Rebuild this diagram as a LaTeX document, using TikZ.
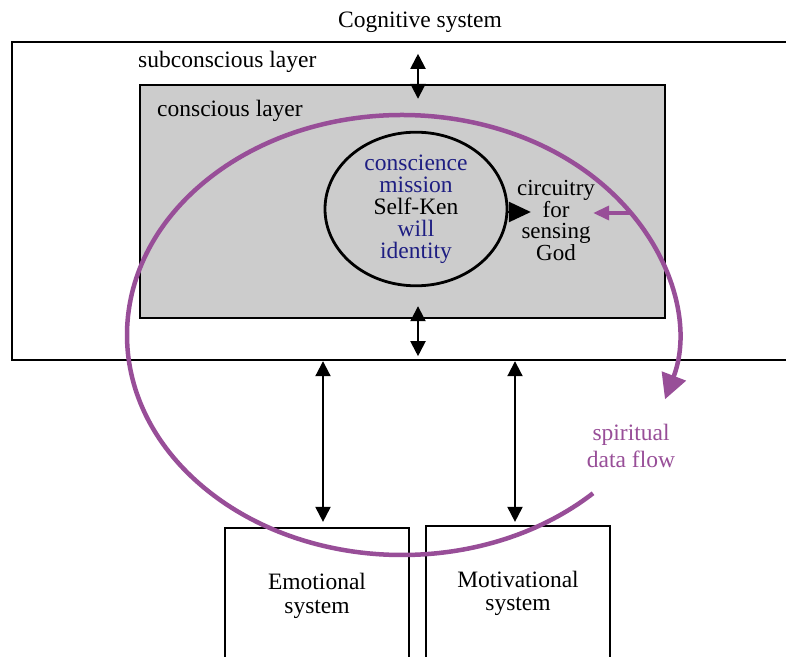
\documentclass[tikz,border=0pt]{standalone}
\usepackage{fontspec}
\setmainfont{Liberation Serif}
\usetikzlibrary{arrows.meta,shapes.geometric,positioning}
\definecolor{layergray}{RGB}{204,204,204}
\definecolor{flowpurple}{RGB}{152,78,152}
\definecolor{inkblue}{RGB}{30,30,130}
\tikzset{box/.style={rectangle, draw=black, line width=2.4pt, inner sep=0pt},twoway/.style={{Triangle[length=15pt,width=15pt]}-{Triangle[length=15pt,width=15pt]}, line width=2pt},oneway/.style={-{Triangle[length=22pt,width=20pt]}, line width=2.4pt},flow/.style={draw=flowpurple, line width=4.5pt},txt/.style={font=\fontsize{23.5}{24}\selectfont, inner sep=0pt, align=center}}

\begin{document}
\begin{tikzpicture}[x=1pt, y=1pt]

\useasboundingbox (0,0) rectangle (786,656);
\fill[white] (0,0) rectangle (786,656);
\clip (0,0) rectangle (786,656);

\node(cogn) at (406, 455) [box, minimum width=788, minimum height=318] {};
\node(consc) at (402.5, 454.5) [box, fill=layergray, minimum width=525, minimum height=233] {};
\node(self) at (416, 447) [box, line width=2.8pt, ellipse, minimum width=182, minimum height=122, inner sep=-15pt, txt, font=\fontsize{23.5}{22}\selectfont] {\textcolor{inkblue}{conscience}\\\textcolor{inkblue}{mission}\\Self-Ken\\\textcolor{inkblue}{will}\\\textcolor{inkblue}{identity}};
\node(circ) at (556, 435.5) [txt, font=\fontsize{23}{21.5}\selectfont] {circuitry\\for\\sensing\\God};
\node(emo) at (317, 60.5) [box, line width=2.2pt, minimum width=184, minimum height=135, txt] {Emotional\\system};
\node(motiv) at (518, 62.5) [box, line width=2.2pt, minimum width=184, minimum height=135, txt, font=\fontsize{23.5}{23}\selectfont] {Motivational\\system};

\node(cogtitle) at (420, 628) [txt, anchor=base] {Cognitive system};
\node(subc) at (138, 588) [txt, anchor=base west] {subconscious layer};
\node(consl) at (157, 539) [txt, anchor=base west] {conscious layer};
\node(flowlbl) at (631, 210) [txt, text=flowpurple, font=\fontsize{23.5}{27}\selectfont] {spiritual\\data flow};

% links between the systems
\draw[twoway, shorten <=13pt, shorten >=-15pt] ([xshift=15.5pt]consc.north |- cogn.north) -- ([xshift=15.5pt]consc.north);
\draw[twoway, shorten <=-13pt, shorten >=5pt] ([xshift=15.5pt]consc.south) -- ([xshift=15.5pt]consc.south |- cogn.south);
\draw[twoway, shorten >=5pt] ([xshift=6pt]emo.north |- cogn.south) -- ([xshift=6pt]emo.north);
\draw[twoway, shorten >=3pt] ([xshift=-3pt]motiv.north |- cogn.south) -- ([xshift=-3pt]motiv.north);
\draw[oneway, shorten >=-14pt] ([yshift=-3pt]self.east) -- ([yshift=-3pt]self.east -| circ.west);

% spiritual data flow
\coordinate(flowctr) at (402, 321);
\coordinate(flowin) at (631, 443);
\draw[flow, -{Triangle[length=25pt,width=25pt]}] (flowctr) ++(-46:275 and 220) arc[start angle=-46, end angle=-377, x radius=275, y radius=220];
\draw[flow, line width=3.5pt, -{Triangle[length=16pt,width=14pt]}, shorten >=-2pt] (flowin) -- (flowin -| circ.east);

\end{tikzpicture}
\end{document}
